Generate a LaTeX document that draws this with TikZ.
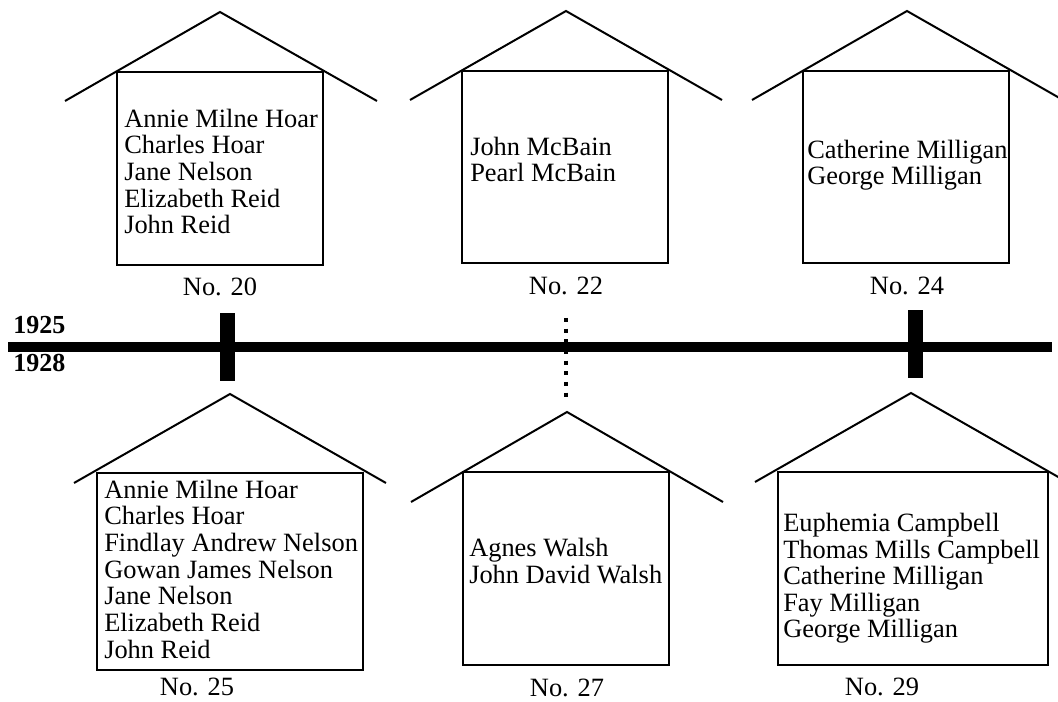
\documentclass[tikz,border=0pt]{standalone}
\usepackage{fontspec}
\setmainfont{Liberation Serif}
\begin{document}
\begin{tikzpicture}[x=0.75pt,y=-0.75pt,
  houseline/.style={line width=1.5pt, line join=miter},
  names/.style={anchor=base west, inner sep=0pt, align=left, font=\fontsize{19.8}{20}\selectfont},
  numlabel/.style={anchor=base, inner sep=0pt, font=\fontsize{19.8}{20}\selectfont},
  yearlabel/.style={anchor=base west, inner sep=0pt, font=\fontsize{19.5}{20}\selectfont\bfseries},
  timeline/.style={line width=7.5pt},
  tickbar/.style={fill=black, draw=none},
  dotline/.style={line width=3pt, dash pattern=on 3pt off 5pt}]
\clip (0,0) rectangle (1058,702);

% timeline
\coordinate (tlL) at (8,347);
\coordinate (tlR) at (1052,347);
\draw[timeline] (tlL) -- (tlR);
\fill[tickbar] (220,313) rectangle (235,381);
\fill[tickbar] (908,310) rectangle (923,378);
\coordinate (dotT) at (566,318);
\coordinate (dotB) at (566,398);
\draw[dotline] (dotT) -- (dotB);
\node[yearlabel] (y1925) at (13,334) {1925};
\node[yearlabel] (y1928) at (13,372) {1928};

% top houses
\draw[houseline] (65,101) -- (220,12) -- (377,101);
\draw[houseline] (117,72) rectangle (323,265);
\draw[houseline] (410,100) -- (566,11) -- (722,100);
\draw[houseline] (462,71) rectangle (668,263);
\draw[houseline] (752,100) -- (907,11) -- (1063,100);
\draw[houseline] (803,71) rectangle (1009,263);

% bottom houses
\draw[houseline] (74,483) -- (230,394) -- (386,483);
\draw[houseline] (97,473) rectangle (363,670);
\draw[houseline] (411,502) -- (567,412) -- (723,502);
\draw[houseline] (463,472) rectangle (669,665);
\draw[houseline] (755,482) -- (911,393) -- (1067,482);
\draw[houseline] (778,472) rectangle (1048,665);

% names (anchored at the baseline of the last line)
\node[names] (n20) at (124,234) {Annie Milne Hoar\\Charles Hoar\\Jane Nelson\\Elizabeth Reid\\John Reid};
\node[names] (n22) at (470,182) {John McBain\\Pearl McBain};
\node[names] (n24) at (807,185) {Catherine Milligan\\George Milligan};
\node[names] (n25) at (104,658) {Annie Milne Hoar\\Charles Hoar\\Findlay Andrew Nelson\\Gowan James Nelson\\Jane Nelson\\Elizabeth Reid\\John Reid};
\node[names] (n27) at (469,583) {Agnes Walsh\\John David Walsh};
\node[names] (n29) at (783,638) {Euphemia Campbell\\Thomas Mills Campbell\\Catherine Milligan\\Fay Milligan\\George Milligan};

% number labels
\node[numlabel] (l20) at (220,296) {No. 20};
\node[numlabel] (l22) at (566,295) {No. 22};
\node[numlabel] (l24) at (907,295) {No. 24};
\node[numlabel] (l25) at (197,695) {No. 25};
\node[numlabel] (l27) at (567,696) {No. 27};
\node[numlabel] (l29) at (882,695) {No. 29};
\end{tikzpicture}
\end{document}
